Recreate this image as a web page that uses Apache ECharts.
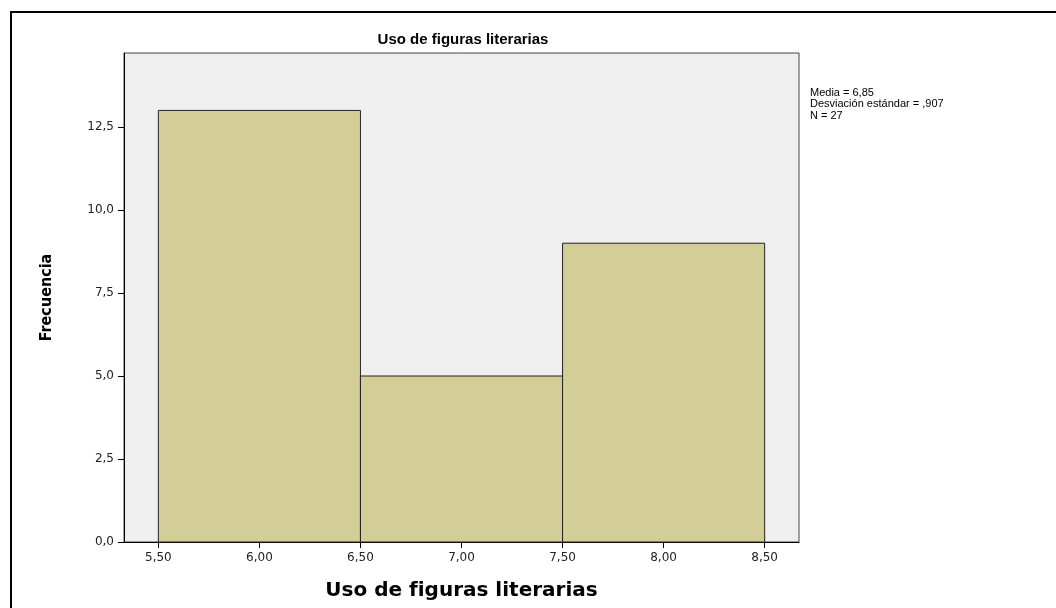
<!DOCTYPE html>
<html lang="es">
<head>
    <meta charset="UTF-8">
    <title>Uso de figuras literarias</title>
    <script src="https://cdn.jsdelivr.net/npm/echarts@6/dist/echarts.min.js"></script>
    <style>
        html, body { margin: 0; padding: 0; background: #fff; }
        #main { width: 1056px; height: 608px; }
    </style>
</head>
<body>
<div id="main"></div>
<script type="text/javascript">
    // datos del histograma
    var binStart = [5.5, 6.5, 7.5];
    var binEnd = [6.5, 7.5, 8.5];
    var counts = [13, 5, 9];
    var xTicks = [5.5, 6.0, 6.5, 7.0, 7.5, 8.0, 8.5];
    var statsLines = ['Media = 6,85', 'Desviación estándar = ,907', 'N = 27'];

    var bins = binStart.map(function (s, i) { return [s, binEnd[i], counts[i]]; });

    var myChart = echarts.init(document.getElementById('main'));

    function comma(v, d) {
        return v.toFixed(d).replace('.', ',');
    }

    var option = {
        animation: false,
        backgroundColor: '#fff',
        grid: {
            left: 124, top: 53, width: 675, height: 489,
            show: true,
            backgroundColor: '#efefef',
            borderColor: '#444',
            borderWidth: 1
        },
        xAxis: {
            type: 'value',
            min: 5.33, max: 8.67,
            name: 'Uso de figuras literarias',
            nameLocation: 'middle',
            nameGap: 39,
            nameTextStyle: { fontFamily: 'DejaVu Sans', fontWeight: 'bold', fontSize: 20, color: '#000' },
            axisLine: { lineStyle: { color: '#000', width: 1 } },
            axisTick: { show: true, length: 6, customValues: xTicks, lineStyle: { color: '#000' } },
            axisLabel: {
                customValues: xTicks,
                margin: 10,
                fontFamily: 'DejaVu Sans', fontSize: 12, color: '#222',
                formatter: function (v) { return comma(v, 2); }
            },
            splitLine: { show: false }
        },
        yAxis: {
            type: 'value',
            min: 0, max: 14.73, interval: 2.5,
            name: 'Frecuencia',
            nameLocation: 'middle',
            nameGap: 69,
            nameTextStyle: { fontFamily: 'DejaVu Sans Condensed, Liberation Sans', fontWeight: 'bold', fontSize: 16, color: '#000' },
            axisLine: { show: true, lineStyle: { color: '#000', width: 1 } },
            axisTick: { show: true, length: 6, lineStyle: { color: '#000' } },
            axisLabel: {
                showMaxLabel: false,
                margin: 10,
                fontFamily: 'DejaVu Sans', fontSize: 12, color: '#222',
                formatter: function (v) { return comma(v, 1); }
            },
            splitLine: { show: false }
        },
        graphic: [
            {
                type: 'rect', silent: true, z: 100,
                shape: { x: 11, y: 12, width: 1200, height: 800 },
                style: { fill: 'none', stroke: '#000', lineWidth: 2 }
            },
            {
                type: 'text', x: 463, y: 40,
                style: {
                    text: 'Uso de figuras literarias',
                    font: 'bold 15px "Liberation Sans", Arial',
                    fill: '#000', align: 'center', verticalAlign: 'middle'
                }
            },
            {
                type: 'text', x: 810, y: 87,
                style: {
                    text: statsLines.join('\n'),
                    font: '11px "Liberation Sans", Arial',
                    lineHeight: 11.5,
                    fill: '#000', align: 'left', verticalAlign: 'top'
                }
            }
        ],
        series: [{
            type: 'custom',
            data: bins,
            encode: { x: [0, 1], y: 2 },
            renderItem: function (params, api) {
                var p0 = api.coord([api.value(0), api.value(2)]);
                var p1 = api.coord([api.value(1), 0]);
                return {
                    type: 'rect',
                    shape: { x: p0[0], y: p0[1], width: p1[0] - p0[0], height: p1[1] - p0[1] },
                    style: { fill: '#d3ce97', stroke: '#222', lineWidth: 1 }
                };
            }
        }]
    };
    myChart.setOption(option);
</script>
</body>
</html>
